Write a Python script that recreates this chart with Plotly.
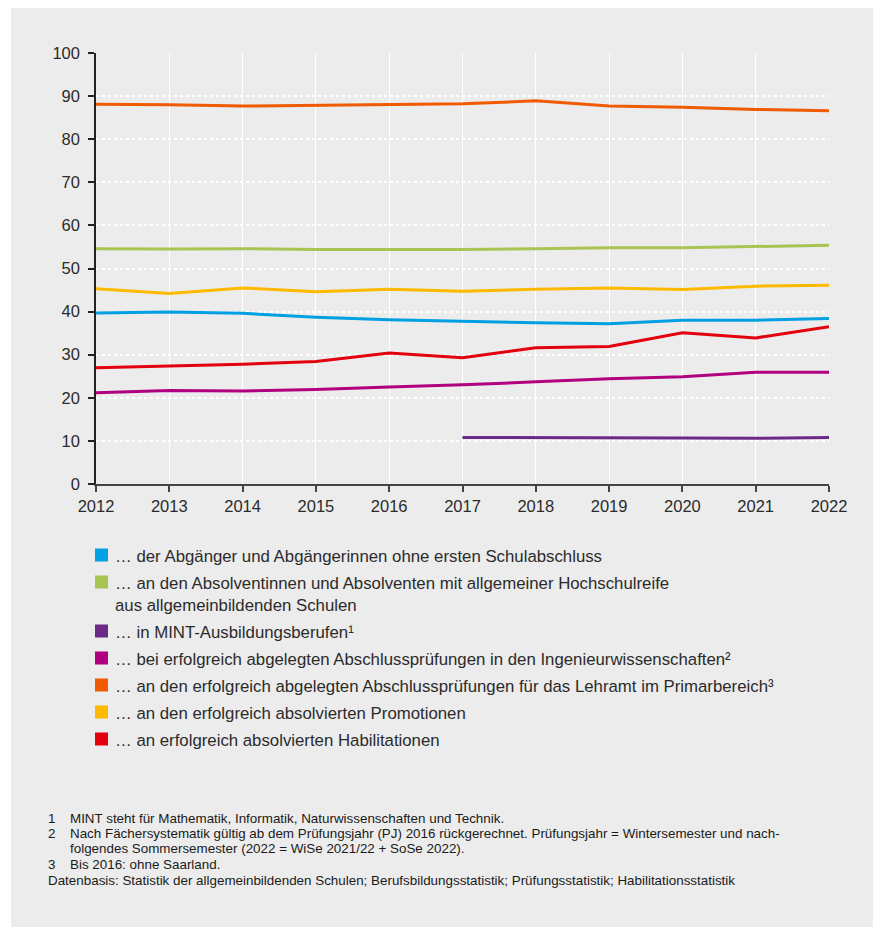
import plotly.graph_objects as go

years = [2012, 2013, 2014, 2015, 2016, 2017, 2018, 2019, 2020, 2021, 2022]
years_mint = [2017, 2018, 2019, 2020, 2021, 2022]

abgaenger = [39.7, 39.9, 39.6, 38.7, 38.1, 37.7, 37.4, 37.2, 38.0, 38.0, 38.4]
hochschulreife = [54.6, 54.5, 54.6, 54.4, 54.4, 54.4, 54.6, 54.8, 54.8, 55.1, 55.4]
mint_ausbildung = [10.8, 10.8, 10.7, 10.7, 10.6, 10.8]
ingenieur = [21.2, 21.7, 21.6, 21.9, 22.5, 23.0, 23.7, 24.4, 24.9, 25.9, 25.9]
lehramt = [88.1, 88.0, 87.7, 87.9, 88.1, 88.2, 88.9, 87.7, 87.4, 86.9, 86.6]
promotionen = [45.3, 44.2, 45.5, 44.6, 45.2, 44.7, 45.2, 45.5, 45.1, 45.9, 46.1]
habilitationen = [27.0, 27.4, 27.8, 28.4, 30.4, 29.3, 31.6, 31.9, 35.1, 33.9, 36.5]

legend_labels = [
    "… der Abgänger und Abgängerinnen ohne ersten Schulabschluss",
    "… an den Absolventinnen und Absolventen mit allgemeiner Hochschulreife<br>aus allgemeinbildenden Schulen",
    "… in MINT-Ausbildungsberufen¹",
    "… bei erfolgreich abgelegten Abschlussprüfungen in den Ingenieurwissenschaften²",
    "… an den erfolgreich abgelegten Abschlussprüfungen für das Lehramt im Primarbereich³",
    "… an den erfolgreich absolvierten Promotionen",
    "… an erfolgreich absolvierten Habilitationen",
]
colors = ["#00a0e3", "#a9c452", "#6b2a86", "#b0007f", "#f05a00", "#ffb900", "#e3000f"]

footnotes = [
    ("1", "MINT steht für Mathematik, Informatik, Naturwissenschaften und Technik."),
    ("2", "Nach Fächersystematik gültig ab dem Prüfungsjahr (PJ) 2016 rückgerechnet. Prüfungsjahr = Wintersemester und nach-"),
    ("", "folgendes Sommersemester (2022 = WiSe 2021/22 + SoSe 2022)."),
    ("3", "Bis 2016: ohne Saarland."),
]
datenbasis = "Datenbasis: Statistik der allgemeinbildenden Schulen; Berufsbildungsstatistik; Prüfungsstatistik; Habilitationsstatistik"

# page body has an 8px margin; work in screen coords and shift
OFF = 8
W, H = 881 - OFF, 927 - OFF
L, R, T, B = 96, 829, 53, 484  # screen coords of plot area
FONT = "Liberation Sans, Arial, Helvetica, sans-serif"


def px(x):
    return (x - L) / (R - L)


def py(y):
    return (B - y) / (B - T)


fig = go.Figure()
series = [
    (years, abgaenger),
    (years, hochschulreife),
    (years_mint, mint_ausbildung),
    (years, ingenieur),
    (years, lehramt),
    (years, promotionen),
    (years, habilitationen),
]
order = [1, 4, 5, 0, 6, 3, 2]
for i in order:
    xs, ys = series[i]
    fig.add_trace(go.Scatter(x=xs, y=ys, mode="lines",
                             line=dict(color=colors[i], width=3),
                             showlegend=False, hoverinfo="skip"))

shapes = []
# white left strip (panel starts at screen x=11)
shapes.append(dict(type="rect", xref="paper", yref="paper", x0=px(OFF - 2), x1=px(11), y0=py(0), y1=py(H + OFF + 2),
                   fillcolor="white", line=dict(width=0), layer="below"))

annotations = []
legend_rows = [555, 582, 631, 658, 685, 712, 739]
for lab, col, yc in zip(legend_labels, colors, legend_rows):
    shapes.append(dict(type="rect", xref="paper", yref="paper",
                       x0=px(95), x1=px(108), y0=py(yc - 6.5), y1=py(yc + 6.5),
                       fillcolor=col, line=dict(width=0)))
    annotations.append(dict(xref="paper", yref="paper", x=px(113), y=py(yc - 10),
                            xanchor="left", yanchor="top", align="left", showarrow=False,
                            text=lab, font=dict(family=FONT, size=16.8, color="#2b2b2b")))

foot_rows = [818, 833, 848, 864]
for (num, txt), yc in zip(footnotes, foot_rows):
    if num:
        annotations.append(dict(xref="paper", yref="paper", x=px(46), y=py(yc),
                                xanchor="left", yanchor="middle", showarrow=False,
                                text=num, font=dict(family=FONT, size=13.4, color="#1a1a1a")))
    annotations.append(dict(xref="paper", yref="paper", x=px(68), y=py(yc),
                            xanchor="left", yanchor="middle", showarrow=False,
                            text=txt, font=dict(family=FONT, size=13.4, color="#1a1a1a")))
annotations.append(dict(xref="paper", yref="paper", x=px(46), y=py(880),
                        xanchor="left", yanchor="middle", showarrow=False,
                        text=datenbasis, font=dict(family=FONT, size=13.4, color="#1a1a1a")))

fig.update_layout(
    width=W, height=H,
    margin=dict(l=L - OFF, r=881 - R, t=T - OFF, b=H - (B - OFF), pad=0),
    paper_bgcolor="#ececec", plot_bgcolor="#ececec",
    font=dict(family=FONT, size=16.5, color="#2b2b2b"),
    shapes=shapes, annotations=annotations,
    showlegend=False,
)
fig.update_xaxes(range=[2012, 2022], tickmode="array", tickvals=years,
                 ticktext=[str(y) for y in years],
                 showgrid=True, gridcolor="white", gridwidth=1.2,
                 showline=True, linecolor="#444444", linewidth=1.5,
                 ticks="outside", ticklen=6, tickcolor="#444444", tickwidth=1.5,
                 zeroline=False, tickfont=dict(size=16.5, color="#2b2b2b"))
fig.update_yaxes(range=[0, 100], tickmode="array", tickvals=list(range(0, 101, 10)),
                 showgrid=True, gridcolor="white", gridwidth=1.5, griddash="dot",
                 showline=True, linecolor="#222222", linewidth=1.5,
                 ticks="outside", ticklen=6, tickcolor="#222222", tickwidth=1.5,
                 ticklabelstandoff=5,
                 zeroline=False, tickfont=dict(size=16.5, color="#2b2b2b"))

fig.write_html("out.html")
